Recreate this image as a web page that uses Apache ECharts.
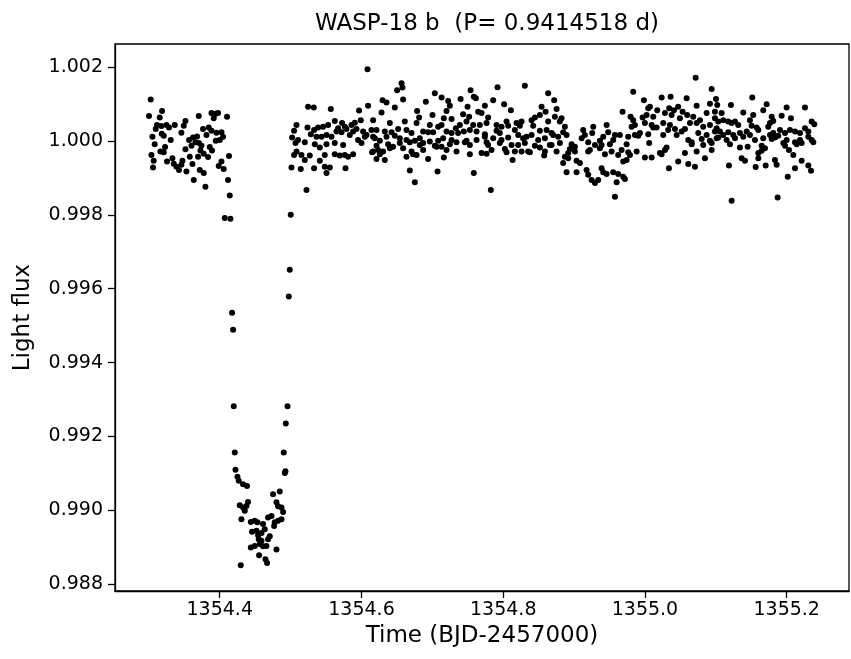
<!DOCTYPE html>
<html>
<head>
<meta charset="utf-8">
<script src="https://cdn.jsdelivr.net/npm/echarts@6/dist/echarts.min.js"></script>
<style>html,body{margin:0;padding:0;background:#fff}#c{width:851px;height:659px}</style>
</head>
<body>
<div id="c"></div>
<script>
const titleText = 'WASP-18 b  (P= 0.9414518 d)';
const xName = 'Time (BJD-2457000)';
const yName = 'Light flux';
const xTicks = [1354.4, 1354.6, 1354.8, 1355.0, 1355.2];
const yTicks = [0.988, 0.990, 0.992, 0.994, 0.996, 0.998, 1.000, 1.002];

const preTransit = [[1354.3026,1.00112],[1354.3002,1.00067],[1354.3186,1.00081],[1354.3153,1.00063],[1354.3115,1.00043],[1354.3097,1.00032],[1354.3177,1.00040],[1354.3248,1.00043],[1354.3284,1.00036],[1354.3365,1.00043],[1354.3516,1.00054],[1354.3492,1.00041],[1354.3050,1.00011],[1354.3181,1.00019],[1354.3210,1.00014],[1354.3308,1.00002],[1354.3459,1.00022],[1354.3082,0.99991],[1354.3228,0.99983],[1354.3163,0.99971],[1354.3210,0.99969],[1354.3036,0.99962],[1354.3068,0.99946],[1354.3058,0.99928],[1354.3256,0.99944],[1354.3332,0.99953],[1354.3351,0.99938],[1354.3389,0.99930],[1354.3425,0.99921],[1354.3459,0.99935],[1354.3473,0.99946],[1354.3530,0.99917],[1354.3615,0.99937],[1354.3633,0.99894],[1354.3577,0.99957],[1354.3516,0.99977],[1354.3567,1.00002],[1354.3623,1.00009],[1354.3657,0.99996],[1354.3680,1.00012],[1354.3601,0.99987],[1354.3704,1.00067],[1354.3883,1.00075],[1354.3944,1.00073],[1354.3976,1.00075],[1354.3915,1.00061],[1354.3764,1.00032],[1354.3845,1.00036],[1354.3883,1.00027],[1354.3812,1.00016],[1354.3953,1.00022],[1354.4024,1.00023],[1354.4047,1.00011],[1354.4000,1.00002],[1354.3944,1.00000],[1354.3708,0.99994],[1354.3742,0.99987],[1354.3728,0.99974],[1354.3774,0.99965],[1354.3694,0.99957],[1354.3835,0.99956],[1354.3859,0.99983],[1354.3891,0.99974],[1354.3718,0.99921],[1354.3774,0.99913],[1354.3798,0.99876],[1354.4103,1.00065],[1354.4131,0.99959],[1354.4024,0.99944],[1354.3986,0.99932],[1354.4056,0.99924],[1354.4117,0.99894],[1354.4141,0.99852],[1354.4071,0.99791],[1354.4151,0.99789]];

const transit = [[1354.4174,0.99535],[1354.4188,0.99489],[1354.4198,0.99282],[1354.4212,0.99157],[1354.4222,0.99110],[1354.4250,0.99091],[1354.4268,0.99080],[1354.4329,0.99071],[1354.4385,0.99066],[1354.4399,0.99023],[1354.4282,0.99014],[1354.4329,0.99008],[1354.4353,0.98999],[1354.4377,0.99012],[1354.4306,0.98976],[1354.4438,0.98969],[1354.4494,0.98972],[1354.4532,0.98968],[1354.4611,0.98963],[1354.4682,0.98981],[1354.4730,0.98985],[1354.4456,0.98942],[1354.4518,0.98945],[1354.4541,0.98933],[1354.4589,0.98939],[1354.4635,0.98949],[1354.4706,0.98930],[1354.4682,0.98922],[1354.4438,0.98900],[1354.4494,0.98904],[1354.4565,0.98909],[1354.4611,0.98903],[1354.4659,0.98904],[1354.4551,0.98922],[1354.4589,0.98918],[1354.4800,0.98894],[1354.4555,0.98879],[1354.4645,0.98868],[1354.4668,0.98858],[1354.4296,0.98852],[1354.4752,0.99044],[1354.4847,0.99051],[1354.4800,0.99022],[1354.4823,0.99011],[1354.4871,0.99008],[1354.4894,0.98996],[1354.4776,0.98968],[1354.4823,0.98972],[1354.4871,0.98976],[1354.4767,0.98958],[1354.4903,0.99157],[1354.4927,0.99106],[1354.4918,0.99101],[1354.4932,0.99235],[1354.4956,0.99282],[1354.4974,0.99579],[1354.4988,0.99651],[1354.5002,0.99800],[1354.5224,0.99867]];

const postA = [[1354.6085,1.00194],[1354.5246,1.00092],[1354.5327,1.00090],[1354.5567,1.00086],[1354.6093,1.00095],[1354.5966,1.00082],[1354.5083,1.00043],[1354.5238,1.00036],[1354.5049,1.00027],[1354.5331,1.00029],[1354.5388,1.00036],[1354.5458,1.00038],[1354.5529,1.00043],[1354.5623,1.00054],[1354.5726,1.00048],[1354.5859,1.00043],[1354.5906,1.00049],[1354.5990,1.00056],[1354.5021,1.00009],[1354.5105,1.00002],[1354.5069,0.99994],[1354.5200,0.99996],[1354.5285,1.00018],[1354.5365,1.00011],[1354.5436,1.00011],[1354.5506,1.00016],[1354.5577,1.00011],[1354.5647,1.00025],[1354.5718,1.00023],[1354.5788,1.00032],[1354.5670,1.00034],[1354.5765,1.00038],[1354.5882,1.00025],[1354.5930,1.00032],[1354.6023,1.00025],[1354.6071,1.00016],[1354.6164,1.00011],[1354.6141,1.00029],[1354.5341,0.99991],[1354.5412,0.99982],[1354.5506,0.99991],[1354.5623,0.99994],[1354.5741,0.99989],[1354.5835,1.00016],[1354.5952,1.00002],[1354.6000,0.99994],[1354.6047,1.00011],[1354.5083,0.99971],[1354.5049,0.99962],[1354.5153,0.99962],[1354.5200,0.99948],[1354.5270,0.99960],[1354.5412,0.99946],[1354.5482,0.99962],[1354.5623,0.99964],[1354.5694,0.99960],[1354.5765,0.99962],[1354.5882,0.99964],[1354.5811,0.99957],[1354.5012,0.99928],[1354.5143,0.99924],[1354.5331,0.99926],[1354.5482,0.99930],[1354.5553,0.99928],[1354.5506,0.99913],[1354.5774,0.99926],[1354.6150,0.99969]];

const postB = [[1354.6565,1.00156],[1354.6503,1.00137],[1354.6579,1.00144],[1354.6297,1.00110],[1354.6353,1.00104],[1354.6587,1.00112],[1354.6470,1.00090],[1354.6283,1.00077],[1354.7035,1.00129],[1354.7130,1.00117],[1354.7223,1.00108],[1354.7247,1.00095],[1354.7398,1.00113],[1354.7539,1.00137],[1354.7585,1.00119],[1354.7614,1.00115],[1354.7497,1.00092],[1354.7741,1.00095],[1354.7200,1.00081],[1354.6908,1.00106],[1354.6785,1.00081],[1354.6813,1.00063],[1354.7002,1.00070],[1354.7162,1.00061],[1354.7271,1.00059],[1354.7434,1.00072],[1354.7519,1.00065],[1354.7646,1.00079],[1354.7694,1.00075],[1354.7787,1.00063],[1354.6164,1.00056],[1354.6400,1.00048],[1354.6611,1.00052],[1354.6777,1.00048],[1354.6964,1.00043],[1354.7082,1.00038],[1354.7130,1.00043],[1354.7331,1.00034],[1354.7388,1.00043],[1354.7482,1.00052],[1354.7576,1.00043],[1354.7670,1.00043],[1354.7765,1.00048],[1354.6212,1.00029],[1354.6329,1.00025],[1354.6424,1.00023],[1354.6517,1.00032],[1354.6635,1.00029],[1354.6706,1.00021],[1354.6870,1.00025],[1354.6940,1.00023],[1354.7011,1.00023],[1354.7200,1.00025],[1354.7271,1.00021],[1354.7364,1.00021],[1354.7444,1.00025],[1354.7529,1.00029],[1354.7624,1.00025],[1354.7741,1.00018],[1354.6188,1.00007],[1354.6259,1.00000],[1354.6353,1.00011],[1354.6470,1.00014],[1354.6541,1.00007],[1354.6635,1.00002],[1354.6753,1.00000],[1354.6823,1.00007],[1354.6870,0.99994],[1354.6964,0.99998],[1354.7082,1.00000],[1354.7152,1.00007],[1354.7271,1.00002],[1354.7341,0.99996],[1354.7482,1.00000],[1354.7624,1.00002],[1354.7765,0.99996],[1354.6212,0.99987],[1354.6376,0.99991],[1354.6446,0.99984],[1354.6541,0.99994],[1354.6682,0.99996],[1354.6587,0.99980],[1354.6823,0.99989],[1354.7035,0.99987],[1354.7130,0.99984],[1354.7247,0.99991],[1354.6164,0.99971],[1354.6235,0.99975],[1354.6305,0.99971],[1354.6259,0.99964],[1354.6400,0.99980],[1354.6706,0.99971],[1354.6870,0.99975],[1354.6777,0.99962],[1354.7059,0.99984],[1354.7200,0.99975],[1354.7341,0.99971],[1354.7458,0.99996],[1354.7529,0.99989],[1354.6212,0.99951],[1354.6329,0.99948],[1354.6635,0.99957],[1354.6729,0.99964],[1354.6940,0.99951],[1354.7162,0.99955],[1354.7529,0.99964],[1354.7694,0.99967],[1354.7765,0.99965],[1354.6682,0.99920],[1354.7073,0.99917],[1354.7585,0.99913],[1354.6753,0.99888],[1354.7825,0.99867]];

const postC = [[1354.7920,1.00145],[1354.8305,1.00149],[1354.8634,1.00129],[1354.8719,1.00110],[1354.7858,1.00110],[1354.8013,1.00099],[1354.8108,1.00083],[1354.8541,1.00092],[1354.8598,1.00079],[1354.8517,1.00070],[1354.8447,1.00063],[1354.8400,1.00056],[1354.8753,1.00086],[1354.8729,1.00065],[1354.8823,1.00061],[1354.8799,1.00052],[1354.8634,1.00052],[1354.7906,1.00043],[1354.7976,1.00038],[1354.8047,1.00052],[1354.8070,1.00041],[1354.8188,1.00048],[1354.8235,1.00041],[1354.8259,1.00052],[1354.7906,1.00027],[1354.7952,1.00021],[1354.8423,1.00041],[1354.8517,1.00027],[1354.8612,1.00029],[1354.8682,1.00021],[1354.8870,1.00038],[1354.8846,1.00023],[1354.8894,1.00016],[1354.7741,1.00011],[1354.7858,1.00007],[1354.7976,1.00002],[1354.8070,1.00009],[1354.8164,1.00029],[1354.8211,1.00016],[1354.8281,1.00007],[1354.8329,1.00011],[1354.8400,1.00016],[1354.8493,1.00002],[1354.8588,1.00007],[1354.8705,1.00016],[1354.8775,1.00011],[1354.7787,0.99989],[1354.7952,0.99994],[1354.8118,0.99989],[1354.8211,0.99989],[1354.8305,0.99994],[1354.8447,0.99987],[1354.8517,0.99982],[1354.8658,0.99989],[1354.8799,0.99994],[1354.8965,0.99991],[1354.9011,0.99984],[1354.8941,0.99978],[1354.7835,0.99975],[1354.8023,0.99978],[1354.8164,0.99971],[1354.8259,0.99971],[1354.8352,0.99971],[1354.8588,0.99971],[1354.8753,0.99971],[1354.8917,0.99967],[1354.9011,0.99971],[1354.8047,0.99969],[1354.8376,0.99969],[1354.8132,0.99948],[1354.8578,0.99960],[1354.8682,0.99989],[1354.8870,0.99957],[1354.8846,0.99940],[1354.8917,0.99953],[1354.9035,0.99946],[1354.8894,0.99915],[1354.9035,0.99915],[1354.9082,0.99940],[1354.9128,1.00029],[1354.9152,1.00016],[1354.9106,1.00007],[1354.9270,1.00038],[1354.9256,1.00021],[1354.9199,0.99996],[1354.9294,0.99989],[1354.9364,1.00000],[1354.9411,1.00011],[1354.9364,0.99980],[1354.9223,0.99975],[1354.9199,0.99971],[1354.9388,0.99926],[1354.9411,0.99915],[1354.9199,0.99908],[1354.9247,0.99894],[1354.9294,0.99886],[1354.9340,0.99894],[1354.9176,0.99921]];

const postD = [[1355.0715,1.00171],[1354.9834,1.00133],[1355.0941,1.00140],[1354.9985,1.00110],[1355.0235,1.00117],[1355.0362,1.00119],[1355.0588,1.00115],[1355.0729,1.00095],[1355.0917,1.00100],[1355.1002,1.00113],[1355.1020,1.00097],[1354.9684,1.00079],[1355.0046,1.00088],[1355.0070,1.00092],[1355.0173,1.00083],[1355.0342,1.00088],[1355.0409,1.00083],[1355.0469,1.00092],[1355.0531,1.00079],[1355.0596,1.00070],[1355.0681,1.00065],[1355.0776,1.00056],[1355.0870,1.00075],[1355.0987,1.00079],[1354.9797,1.00065],[1354.9834,1.00056],[1354.9967,1.00063],[1355.0023,1.00070],[1355.0117,1.00065],[1355.0282,1.00075],[1355.0376,1.00070],[1355.0493,1.00061],[1354.9459,1.00043],[1354.9812,1.00038],[1354.9858,1.00043],[1354.9999,1.00048],[1355.0094,1.00043],[1355.0117,1.00036],[1355.0258,1.00048],[1355.0352,1.00043],[1355.0635,1.00048],[1355.0729,1.00048],[1355.0822,1.00038],[1355.0917,1.00043],[1355.1011,1.00034],[1354.9481,1.00023],[1354.9576,1.00016],[1354.9646,1.00016],[1354.9764,1.00011],[1354.9858,1.00016],[1354.9929,1.00021],[1355.0046,1.00018],[1355.0164,1.00036],[1355.0258,1.00016],[1355.0328,1.00029],[1355.0423,1.00032],[1355.0517,1.00025],[1355.0564,1.00032],[1355.0752,1.00021],[1355.0870,1.00016],[1355.0987,1.00025],[1354.9552,1.00002],[1354.9905,1.00014],[1355.0447,1.00016],[1355.0611,1.00002],[1355.0659,0.99996],[1355.0800,1.00005],[1355.0917,1.00000],[1355.1011,1.00007],[1354.9388,0.99989],[1354.9505,0.99991],[1354.9741,0.99991],[1355.0060,0.99994],[1355.0659,0.99991],[1355.0822,0.99989],[1355.0941,0.99994],[1354.9435,0.99964],[1354.9529,0.99971],[1354.9622,0.99962],[1354.9670,0.99975],[1354.9764,0.99969],[1354.9788,0.99962],[1354.9882,0.99971],[1355.0211,0.99967],[1355.0282,0.99975],[1355.0305,0.99982],[1355.0564,0.99967],[1355.0729,0.99971],[1355.0941,0.99975],[1355.0846,0.99953],[1354.9693,0.99944],[1354.9741,0.99948],[1354.9999,0.99955],[1355.0094,0.99955],[1355.0235,0.99964],[1355.0469,0.99944],[1355.0611,0.99937],[1355.0705,0.99930],[1355.0338,0.99926],[1354.9459,0.99910],[1354.9552,0.99915],[1354.9622,0.99910],[1354.9693,0.99903],[1354.9717,0.99897],[1354.9600,0.99888],[1354.9576,0.99849]];

const postE = [[1355.1514,1.00117],[1355.1717,1.00099],[1355.1999,1.00090],[1355.2258,1.00090],[1355.1669,1.00083],[1355.1213,1.00097],[1355.1082,1.00075],[1355.1387,1.00077],[1355.1528,1.00070],[1355.1788,1.00065],[1355.1929,1.00068],[1355.2060,1.00061],[1355.1810,1.00054],[1355.0987,1.00061],[1355.1034,1.00052],[1355.1105,1.00056],[1355.1175,1.00052],[1355.1223,1.00048],[1355.1270,1.00052],[1355.1316,1.00043],[1355.1481,1.00056],[1355.1505,1.00041],[1355.1576,1.00036],[1355.1740,1.00038],[1355.1764,1.00048],[1355.1905,1.00029],[1355.2352,1.00052],[1355.2389,1.00045],[1355.1058,1.00025],[1355.1105,1.00016],[1355.1175,1.00023],[1355.1246,1.00016],[1355.1340,1.00021],[1355.1435,1.00025],[1355.1481,1.00016],[1355.1599,1.00029],[1355.1764,1.00016],[1355.1810,1.00021],[1355.1881,1.00014],[1355.1976,1.00021],[1355.2046,1.00029],[1355.2117,1.00025],[1355.2188,1.00021],[1355.2258,1.00034],[1355.2305,1.00025],[1355.1034,1.00009],[1355.1152,1.00002],[1355.1199,0.99991],[1355.1270,1.00007],[1355.1387,1.00011],[1355.1552,1.00002],[1355.1669,1.00007],[1355.1788,1.00005],[1355.1834,1.00009],[1355.1952,0.99994],[1355.1999,1.00002],[1355.2117,0.99996],[1355.2188,1.00002],[1355.2211,0.99994],[1355.2305,1.00011],[1355.2352,1.00002],[1355.2375,0.99996],[1355.1340,0.99982],[1355.1449,0.99984],[1355.1647,0.99987],[1355.1693,0.99980],[1355.1976,0.99987],[1355.2032,0.99975],[1355.2141,0.99991],[1355.1599,0.99967],[1355.1647,0.99973],[1355.2093,0.99962],[1355.1364,0.99953],[1355.1411,0.99946],[1355.1599,0.99953],[1355.1834,0.99948],[1355.2211,0.99946],[1355.1185,0.99933],[1355.1562,0.99929],[1355.1703,0.99933],[1355.1858,0.99935],[1355.2117,0.99926],[1355.2305,0.99933],[1355.2343,0.99919],[1355.2014,0.99903],[1355.1223,0.99838],[1355.1872,0.99847]];

const allPoints = [].concat(preTransit, transit, postA, postB, postC, postD, postE);

const FONT = 'DejaVu Sans';
const chart = echarts.init(document.getElementById('c'), null, {renderer: 'canvas'});
chart.setOption({
  animation: false,
  backgroundColor: '#fff',
  title: {
    text: titleText,
    left: 482, top: 8,
    textAlign: 'center',
    textStyle: {fontFamily: FONT, fontSize: 23, fontWeight: 'normal', color: '#000'}
  },
  grid: {left: 115, right: 2, top: 44, bottom: 68, show: true, borderColor: '#000', borderWidth: 1.3, backgroundColor: 'transparent'},
  xAxis: {
    type: 'value', min: 1354.2522, max: 1355.2879,
    name: xName, nameLocation: 'middle', nameGap: 32,
    nameTextStyle: {fontFamily: FONT, fontSize: 23, color: '#000'},
    axisLine: {show: true, onZero: false, lineStyle: {color: '#000', width: 1.3}},
    axisTick: {show: true, inside: false, length: 7, lineStyle: {color: '#000', width: 1.3}, customValues: xTicks},
    axisLabel: {margin: 10, fontFamily: FONT, fontSize: 19, color: '#000', customValues: xTicks, formatter: v => v.toFixed(1)},
    splitLine: {show: false}
  },
  yAxis: {
    type: 'value', min: 0.98782, max: 1.00262,
    name: yName, nameLocation: 'middle', nameGap: 80, nameRotate: 90,
    nameTextStyle: {fontFamily: FONT, fontSize: 23, color: '#000'},
    axisLine: {show: true, onZero: false, lineStyle: {color: '#000', width: 1.3}},
    axisTick: {show: true, inside: false, length: 7, lineStyle: {color: '#000', width: 1.3}, customValues: yTicks},
    axisLabel: {margin: 12, fontFamily: FONT, fontSize: 19, color: '#000', customValues: yTicks, formatter: v => v.toFixed(3)},
    splitLine: {show: false}
  },
  series: [{
    type: 'scatter',
    data: allPoints,
    symbol: 'circle',
    symbolSize: 6,
    itemStyle: {color: '#000', opacity: 1},
    silent: true
  }]
});
</script>
</body>
</html>
